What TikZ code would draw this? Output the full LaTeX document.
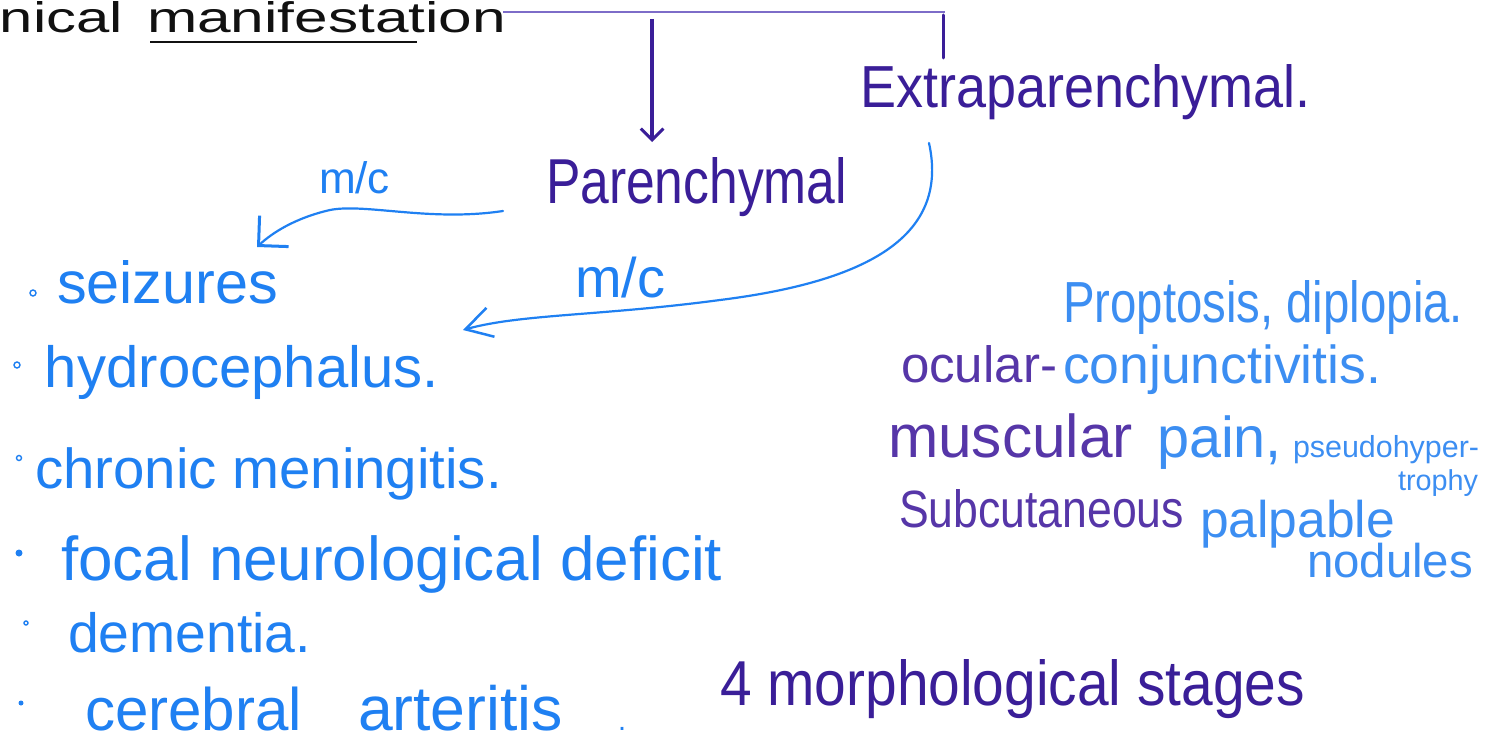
\documentclass[tikz,border=0pt]{standalone}
\usepackage{fontspec}
\setmainfont{Liberation Sans}
\usepackage{graphicx}
\usetikzlibrary{arrows.meta}
\definecolor{ink}{HTML}{111111}
\definecolor{dpurp}{HTML}{3A1E98}
\definecolor{mpurp}{HTML}{5636A8}
\definecolor{lav}{HTML}{7D6CC8}
\definecolor{lblue}{HTML}{1F80F2}
\definecolor{rblue}{HTML}{3C8EF2}
\newcommand\fw[2]{\resizebox{#1pt}{!}{#2}}
\newcommand\fwh[3]{\resizebox{#1pt}{#2pt}{#3}}
\begin{document}
\begin{tikzpicture}[x=1pt,y=-1pt,
  txt/.style={anchor=base west,inner sep=0pt,outer sep=0pt},
  conn/.style={line width=2.2pt,line cap=round,line join=round},
  bul/.style={lblue,line width=1.4pt}]
\useasboundingbox (0,0) rectangle (1485,749);
\clip (0,0) rectangle (1485,749);
\fill[white] (0,0) rectangle (1485,749);

% title
\node[txt,text=ink] (t1) at (0,33) {\fwh{123}{31}{nical}};
\node[txt,text=ink] (t2) at (147,33) {\fwh{359}{31}{manifestation}};
\coordinate (ul1) at (150,42);
\coordinate (ul2) at (417,42);
\draw[ink,line width=2pt] (ul1) -- (ul2);

% connector lines
\coordinate (hl) at (503,12);
\coordinate (hr) at (945,12);
\draw[lav,line width=1.8pt] (hl) -- (hr);
\coordinate (a1s) at (652,19);
\coordinate (a1e) at (652,142);
\draw[dpurp,line width=3.5pt,-{Straight Barb[angle=90:16pt,line width=3pt]}] (a1s) -- (a1e);
\coordinate (v2s) at (943,15);
\coordinate (v2e) at (943,58);
\draw[dpurp,line width=3pt,line cap=round] (v2s) -- (v2e);

% headings
\node[txt,text=dpurp] (extra) at (860,107) {\fwh{450}{43}{Extraparenchymal.}};
\node[txt,text=dpurp] (par) at (546,203) {\fwh{301}{46}{Parenchymal}};

% m/c labels
\node[txt,text=lblue] (mc1) at (319,193) {\fw{71}{m/c}};
\node[txt,text=lblue] (mc2) at (575,297) {\fw{90}{m/c}};

% blue curved connectors
\coordinate (c1s) at (503,211);
\coordinate (c1m) at (330,210);
\coordinate (c1e) at (257,247);
\draw[conn,lblue,-{Straight Barb[angle=90:30pt,line width=3pt]}]
  (c1s) .. controls (430,222) and (365,203) .. (c1m)
        .. controls (295,218) and (272,233) .. (c1e);
\coordinate (c2s) at (929,143);
\coordinate (c2m) at (720,300);
\coordinate (c2e) at (463,330);
\draw[conn,lblue,-{Straight Barb[angle=60:30pt,line width=2.5pt]}]
  (c2s) .. controls (948,230) and (880,280) .. (c2m)
        .. controls (600,316) and (520,314) .. (c2e);

% left list
\draw[bul] (33,293) circle (3);
\node[txt,text=lblue] (l1) at (57,303) {\fw{221}{seizures}};
\draw[bul] (17,365) circle (3);
\node[txt,text=lblue] (l2) at (45,387) {\fw{394}{hydrocephalus.}};
\draw[bul] (19,458) circle (2.5);
\node[txt,text=lblue] (l3) at (35,488) {\fw{467}{chronic meningitis.}};
\fill[lblue] (19,553) circle (3.5);
\node[txt,text=lblue] (l4) at (61,580) {\fw{661}{focal neurological deficit}};
\draw[bul] (26,623) circle (2);
\node[txt,text=lblue] (l5) at (68,652) {\fw{243}{dementia.}};
\fill[lblue] (21,703) circle (2.5);
\node[txt,text=lblue] (l6a) at (85,730) {\fw{217}{cerebral}};
\node[txt,text=lblue] (l6b) at (358,730) {\fw{205}{arteritis}};
\node[txt,text=lblue] (l6c) at (618,730) {\fw{8}{.}};

% right block
\node[txt,text=rblue] (r1) at (1063,322) {\fwh{400}{42}{Proptosis, diplopia.}};
\node[txt,text=mpurp] (r2a) at (901,382) {\fw{156}{ocular-}};
\node[txt,text=rblue] (r2b) at (1063,383) {\fw{318}{conjunctivitis.}};
\node[txt,text=mpurp] (r3a) at (888,457) {\fw{245}{muscular}};
\node[txt,text=rblue] (r3b) at (1157,457) {\fw{125}{pain,}};
\node[txt,text=rblue] (r3c) at (1293,457) {\fw{186}{pseudohyper-}};
\node[txt,text=rblue] (r3d) at (1398,490) {\fw{80}{trophy}};
\node[txt,text=mpurp] (r4a) at (899,527) {\fwh{285}{38}{Subcutaneous}};
\node[txt,text=rblue] (r4b) at (1200,537) {\fw{195}{palpable}};
\node[txt,text=rblue] (r4c) at (1307,577) {\fw{166}{nodules}};

% bottom
\node[txt,text=dpurp] (stages) at (720,705) {\fwh{585}{46}{4 morphological stages}};
\end{tikzpicture}
\end{document}
